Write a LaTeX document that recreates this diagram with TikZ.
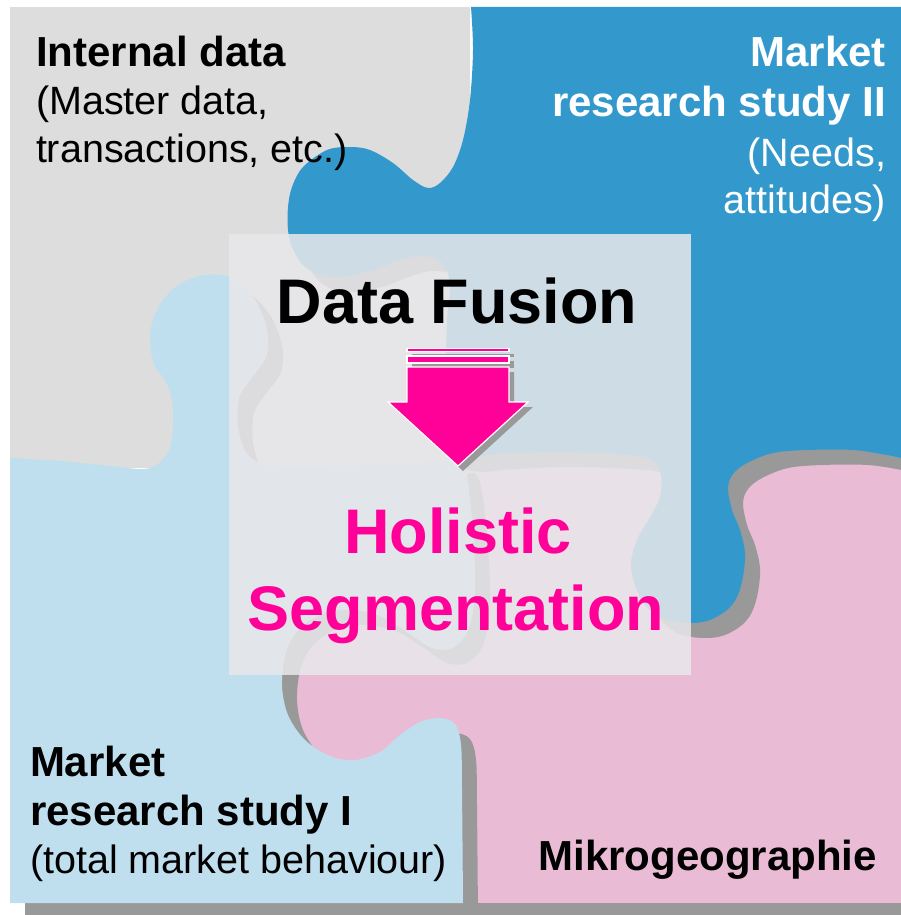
\documentclass[tikz,border=0pt]{standalone}
\usepackage{fontspec}
\setmainfont{Liberation Sans}
\definecolor{pieceGray}{HTML}{DDDDDD}
\definecolor{pieceBlue}{HTML}{3399CC}
\definecolor{pieceLight}{HTML}{BFDFEF}
\definecolor{piecePink}{HTML}{E9BBD5}
\definecolor{dropShade}{HTML}{999999}
\definecolor{veil}{RGB}{232,232,234}
\definecolor{magentaTxt}{HTML}{FF0099}

% puzzle cut lines (pixel units, y pointing down)
\newcommand{\PathBluePiece}{%
  (470,7) -- (915,7) -- (915,458) --
  plot[smooth,tension=0.55] coordinates {(901,458) (887,455) (853,450) (807,450)
    (773,453) (747,463) (733,474) (728,488) (732,510) (740,530) (745,553) (743,577)
    (737,597) (727,610) (710,620) (692,623) (667,620) (647,607) (635,585) (631,563)
    (637,540) (650,517) (660,497) (661,475) (652,460) (630,455) (560,452) (500,454)
    (470,457) (452,455)} --
  plot[smooth,tension=0.55] coordinates {(448,440) (446,380) (447,320) (450,290)
    (447,271) (437,259) (417,256) (397,261) (370,271) (340,277) (317,274) (302,264)
    (292,247) (288,230) (288,207) (292,187) (303,167) (327,150) (350,147) (370,150)
    (393,163) (413,180) (428,188) (440,183) (453,167) (463,140) (470,100) (473,50)
    (471,7)} -- cycle}
\newcommand{\PathLightPiece}{%
  plot[smooth,tension=0.55] coordinates {(10,458) (60,461) (110,466) (143,469)
    (158,464) (169,450) (173,427) (172,400) (166,382) (154,364) (150,340) (153,320)
    (163,300) (180,284) (205,275) (233,278) (255,300) (267,330) (266,357) (250,380)
    (239,398) (238,427) (246,452) (263,464) (300,466) (380,464) (440,462) (463,462)
    (472,520) (475,590) (468,630) (452,648) (432,648) (410,634) (385,618) (355,610)
    (325,613) (300,628) (286,652) (282,685) (288,715) (305,740) (330,756) (355,760)
    (380,752) (400,735) (420,722) (440,718) (455,724) (461,745) (462,790) (463,903)}
  -- (10,903) -- cycle}
\newcommand{\PathArrowBody}{(407,367) -- (509,367) -- (509,402) -- (528,402) -- (458,466) -- (388,402) -- (407,402) -- cycle}

\begin{document}
\begin{tikzpicture}[x=1pt,y=-1pt,
  boldlbl/.style={inner sep=0pt, outer sep=0pt, font=\fontsize{42}{48}\selectfont\bfseries},
  plainlbl/.style={inner sep=0pt, outer sep=0pt, font=\fontsize{39.5}{48}\selectfont},
  biglbl/.style={inner sep=0pt, outer sep=0pt, font=\fontsize{63}{70}\selectfont\bfseries},
  shade/.style={fill=dropShade, shift={(15,15)}},
  arrowpart/.style={fill=magentaTxt, draw=white, line width=1.2pt},
  arrowshade/.style={fill=dropShade, shift={(5,5)}}]
\useasboundingbox (0,0) rectangle (901,915);
\clip (0,0) rectangle (901,915);

% lower right piece
\fill[shade] (250,400) rectangle (915,903);
\fill[piecePink] (250,400) rectangle (915,903);
% upper left piece
\fill[pieceGray] (10,7) rectangle (470,468);
% upper right piece
\fill[shade] \PathBluePiece;
\fill[pieceBlue] \PathBluePiece;
% lower left piece
\fill[shade] \PathLightPiece;
\fill[pieceLight] \PathLightPiece;

% translucent panel in the middle
\fill[veil, opacity=0.86] (229,234) rectangle (691,675);

% fusion arrow
\fill[arrowshade] (407,348.5) rectangle (509,351.5);
\fill[arrowshade] (407,356) rectangle (509,363);
\fill[arrowshade] \PathArrowBody;
\filldraw[arrowpart] (407,348.5) rectangle (509,351.5);
\filldraw[arrowpart] (407,356) rectangle (509,363);
\filldraw[arrowpart] \PathArrowBody;

% labels
\node[boldlbl, anchor=base west] (intA) at (36,67) {Internal data};
\node[plainlbl, anchor=base west] (intB) at (36,115) {(Master data,};
\node[plainlbl, anchor=base west] (intC) at (36,162) {transactions, etc.)};

\node[boldlbl, text=white, anchor=base east] (mrsA) at (886,67) {Market};
\node[boldlbl, text=white, anchor=base east] (mrsB) at (886,117) {research study II};
\node[plainlbl, text=white, anchor=base east] (mrsC) at (886,166) {(Needs,};
\node[plainlbl, text=white, anchor=base east] (mrsD) at (886,213) {attitudes)};

\node[biglbl, anchor=base] (fusion) at (457,323) {Data Fusion};
\node[biglbl, text=magentaTxt, anchor=base] (holA) at (458,553) {Holistic};
\node[biglbl, text=magentaTxt, anchor=base] (holB) at (456,630) {Segmentation};

\node[boldlbl, anchor=base west] (mroA) at (30,776) {Market};
\node[boldlbl, anchor=base west] (mroB) at (30,825) {research study I};
\node[plainlbl, anchor=base west] (mroC) at (30,873) {(total market behaviour)};

\node[boldlbl, anchor=base east] (mikro) at (877,870) {Mikrogeographie};
\end{tikzpicture}
\end{document}
